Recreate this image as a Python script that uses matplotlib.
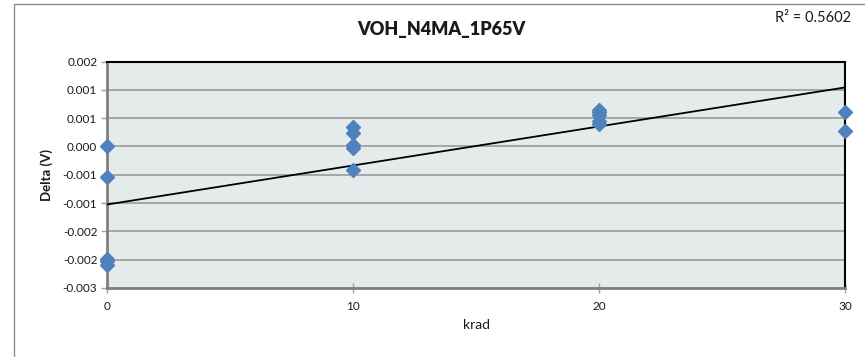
import matplotlib
matplotlib.use("Agg")
import matplotlib.pyplot as plt
from matplotlib.patches import Rectangle
import numpy as np

# Measured deltas per dose step
krad = [0, 0, 0, 0, 0,
        10, 10, 10, 10, 10,
        20, 20, 20, 20, 20,
        30, 30]
delta_v = [0.0, -0.00054, -0.00198, -0.00203, -0.0021,
           0.00034, 0.000235, 0.00002, -0.00002, -0.00042,
           0.00065, 0.0006, 0.00055, 0.00045, 0.0004,
           0.0006, 0.00028]

x_ticks = [0, 10, 20, 30]
y_ticks = [-0.0025, -0.002, -0.0015, -0.001, -0.0005, 0.0, 0.0005, 0.001, 0.0015]
y_tick_labels = ["-0.003", "-0.002", "-0.002", "-0.001", "-0.001",
                 "0.000", "0.001", "0.001", "0.002"]
title = "VOH_N4MA_1P65V"
r2_label = "R\u00b2 = 0.5602"

W, H = 865, 357
fig = plt.figure(figsize=(W / 100, H / 100), dpi=100)
plt.rcParams["font.family"] = ["Lato", "DejaVu Sans"]

# chart frame
fig.patches.append(Rectangle((14 / W, 1 - 362 / H), (870 - 14) / W, (362 - 4) / H,
                             transform=fig.transFigure, fill=False,
                             edgecolor="#8c8c8c", linewidth=1.0))

left, right, top, bottom = 107 / W, 845 / W, 1 - 61.5 / H, 1 - 288 / H
ax = fig.add_axes([left, bottom, right - left, top - bottom])
ax.set_facecolor("#e5ebeb")

ax.set_xlim(0, 30)
ax.set_ylim(-0.0025, 0.0015)
ax.set_xticks(x_ticks)
ax.set_xticklabels([str(t) for t in x_ticks])
ax.set_yticks(y_ticks)
ax.set_yticklabels(y_tick_labels)

ax.grid(axis="y", color="#a0a0a0", linewidth=1.3)
ax.set_axisbelow(True)

for side in ("left", "bottom"):
    ax.spines[side].set_color("#808080")
    ax.spines[side].set_linewidth(2.0)
for side in ("top", "right"):
    ax.spines[side].set_color("black")
    ax.spines[side].set_linewidth(1.5)

ax.tick_params(axis="y", direction="out", length=4, width=1, color="#a0a0a0",
               labelsize=8.5, labelcolor="#1a1a1a", pad=3)
ax.tick_params(axis="x", direction="inout", length=7, width=1, color="#a0a0a0",
               labelsize=8.5, labelcolor="#1a1a1a", pad=6)

# scatter points
ax.plot(krad, delta_v, linestyle="none", marker="D", markersize=7,
        color="#4f81bd", markeredgecolor="#4f81bd", zorder=4, clip_on=False)

# linear trendline
slope, intercept = np.polyfit(krad, delta_v, 1)
xs = np.array([0, 30])
ax.plot(xs, slope * xs + intercept, color="black", linewidth=1.3, zorder=3)

ax.set_xlabel("krad", fontsize=10, color="#1a1a1a", labelpad=5)
ax.set_ylabel("Delta (V)", fontsize=9.5, fontweight="bold", color="#1a1a1a", labelpad=7)

fig.text(441.5 / W, 1 - 30 / H, title, ha="center", va="center",
         fontsize=13, fontweight="heavy", color="#1a1a1a")
fig.text(851 / W, 1 - 18 / H, r2_label, ha="right", va="center",
         fontsize=10.5, color="#1a1a1a")

fig.savefig("out.png", dpi=100)
